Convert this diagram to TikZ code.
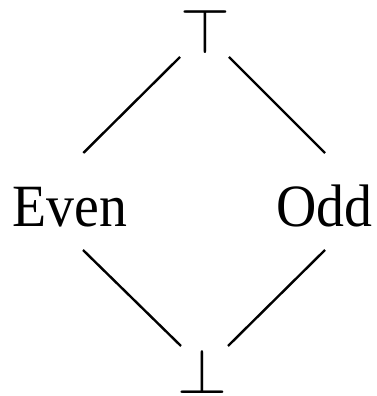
\documentclass[tikz,border=0pt]{standalone}
\usepackage{fontspec}
\setmainfont{Liberation Serif}
\begin{document}
\begin{tikzpicture}[x=1pt,y=1pt,
  lbl/.style={inner sep=0pt,anchor=base,font=\fontsize{60}{60}\selectfont},
  sym/.style={inner sep=0pt,anchor=base},
  edge/.style={line width=2.4pt,line cap=butt}]
\useasboundingbox (0,0) rectangle (377,396);
\node[sym] (top) at (205.5,342) {\scalebox{6.4}{$\top$}};
\node[sym] (bot) at (202.5,3) {\scalebox{6.4}{$\bot$}};
\node[lbl] (even) at (70,169) {\scalebox{0.93}[1]{Even}};
\node[lbl] (odd) at (324.5,169) {\scalebox{0.93}[1]{Odd}};
\draw[edge] ([shift={(-25.5,-3)}]top.base) -- ([shift={(13.3,74)}]even.base);
\draw[edge] ([shift={(23.5,-3)}]top.base) -- ([shift={(0.5,74)}]odd.base);
\draw[edge] ([shift={(13,-23)}]even.base) -- ([shift={(-21.5,47)}]bot.base);
\draw[edge] ([shift={(0.5,-23)}]odd.base) -- ([shift={(25.5,47)}]bot.base);
\end{tikzpicture}
\end{document}
